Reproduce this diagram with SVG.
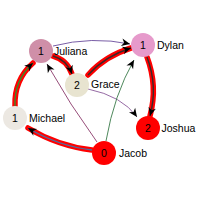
<svg xmlns="http://www.w3.org/2000/svg" width="200" height="200" viewBox="0 0 200 200">
<style>
.halo{fill:none;stroke:#ff0000;stroke-width:5.5;stroke-linecap:round}
.e{fill:none;stroke-width:1.4;marker-end:url(#arr)}
.t{fill:none;stroke-width:0.9;marker-end:url(#arr)}
.lab{font-family:"Liberation Sans",Arial,sans-serif;font-size:10.5px;fill:#000}
.num{font-family:"Liberation Sans",Arial,sans-serif;font-size:10.5px;fill:#000;text-anchor:middle}
</style>
<defs>
<marker id="arr" markerUnits="userSpaceOnUse" markerWidth="10" markerHeight="10" viewBox="-9 -5 10 10" refX="0" refY="0" orient="auto">
<path d="M0,0 L-8.5,-3.8 L-6,0 L-8.5,3.8 Z" fill="#000"/>
</marker>
</defs>
<rect width="200" height="200" fill="#fff"/>
<g id="connectors">
<path class="halo" d="M15,106 Q14,80 33,63"/>
<path class="e" stroke="#3a8a2a" d="M15,106 Q14,80 33,63"/>
<path class="halo" d="M92,150 Q58,146 28,128"/>
<path class="e" stroke="#4f6ea0" d="M92,150 Q58,146 28,128"/>
<path class="halo" d="M53,56 Q67,60 72,74"/>
<path class="e" stroke="#3a2a2a" d="M53,56 Q67,60 72,74"/>
<path class="halo" d="M88,75 Q105,56 131,48"/>
<path class="e" stroke="#3a2a2a" d="M88,75 Q105,56 131,48"/>
<path class="halo" d="M147,57 Q158,86 150,116"/>
<path class="e" stroke="#3a2a2a" d="M147,57 Q158,86 150,116"/>
<path class="t" stroke="#6a4c9c" d="M53,46 Q92,36 130,44"/>
<path class="t" stroke="#8a5a9a" d="M88,89 Q122,96 137,117"/>
<path class="t" stroke="#3a7a4a" d="M106,141 Q114,95 134,60"/>
<path class="t" stroke="#8b3a6b" d="M97,142 Q70,105 47,64"/>
</g>
<g id="juliana"><circle cx="41" cy="51" r="12" fill="#cf8fa8"/><text class="num" x="41" y="55">1</text><text class="lab" x="54" y="55">Juliana</text></g>
<g id="grace"><circle cx="77" cy="85" r="12" fill="#e8e4d0"/><text class="num" x="77" y="89">2</text><text class="lab" x="91" y="88">Grace</text></g>
<g id="dylan"><circle cx="143" cy="45" r="12" fill="#e69acb"/><text class="num" x="143" y="49">1</text><text class="lab" x="157" y="48.5">Dylan</text></g>
<g id="michael"><circle cx="15" cy="118" r="12" fill="#ece8e2"/><text class="num" x="15" y="122">1</text><text class="lab" x="29" y="121.5">Michael</text></g>
<g id="joshua"><circle cx="148" cy="128" r="12" fill="#ff0000"/><text class="num" x="148" y="132">2</text><text class="lab" x="161.5" y="131.5">Joshua</text></g>
<g id="jacob"><circle cx="104" cy="153" r="12" fill="#ff0000"/><text class="num" x="104" y="157">0</text><text class="lab" x="119" y="156.5">Jacob</text></g>
</svg>
